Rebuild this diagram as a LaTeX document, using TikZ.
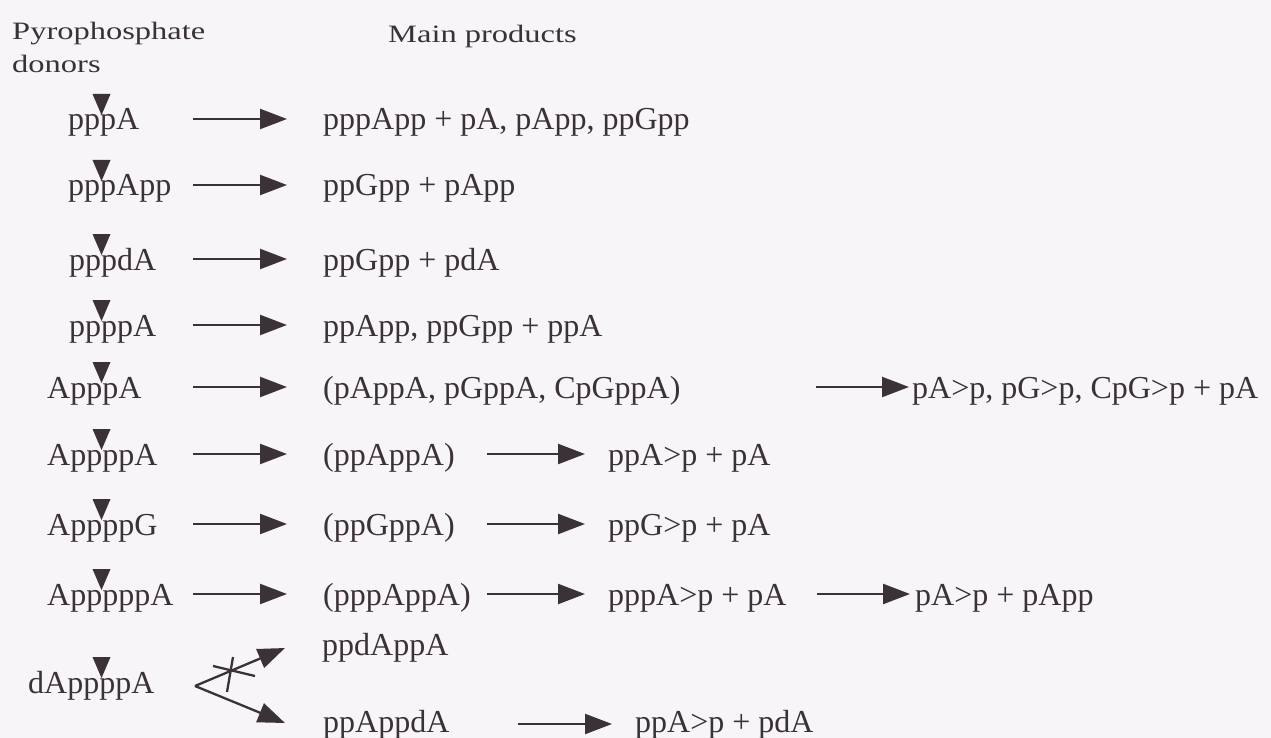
\documentclass[tikz,border=0pt]{standalone}
\usepackage{fontspec}
\setmainfont{Liberation Serif}
\newfontfamily\hdrfont{Liberation Serif}[FakeStretch=1.3]
\usetikzlibrary{arrows.meta}
\definecolor{ink}{HTML}{3B3139}
\definecolor{bg}{HTML}{F7F5F7}
\tikzset{
  fml/.style={anchor=base west, inner sep=0pt, text=ink, font=\fontsize{32}{38}\selectfont},
  hdr/.style={anchor=base west, inner sep=0pt, text=ink, font=\hdrfont\fontsize{25}{33}\selectfont},
  arr/.style={draw=ink, line width=2.3pt, -{Triangle[length=27pt,width=20pt]}},
  cutmark/.pic={\fill[ink] (-9,0) -- (9,0) -- (0,21) -- cycle;}
}
\begin{document}
\begin{tikzpicture}[x=1pt,y=-1pt]
\fill[bg] (0,0) rectangle (1271,738);
\useasboundingbox (0,0) rectangle (1271,738);
% headers
\node[hdr] (h1) at (12,40) {Pyrophosphate};
\node[hdr] (h2) at (12,73) {donors};
\node[hdr] (h3) at (388,43) {Main products};
% donors
\node[fml] (d1) at (68,130) {pppA};
\node[fml] (d2) at (68,196) {pppApp};
\node[fml] (d3) at (69,270) {pppdA};
\node[fml] (d4) at (69,336) {ppppA};
\node[fml] (d5) at (47,398) {ApppA};
\node[fml] (d6) at (47,465) {AppppA};
\node[fml] (d7) at (47,535) {AppppG};
\node[fml] (d8) at (47,605) {ApppppA};
\node[fml] (d9) at (28,693) {dAppppA};
% cleavage marks
\foreach \b in {130,196,270,336,398,465,535,605,693}
  \pic at (101.5,\b-36) {cutmark};
% products
\node[fml] (p1) at (323,130) {pppApp + pA, pApp, ppGpp};
\node[fml] (p2) at (323,196) {ppGpp + pApp};
\node[fml] (p3) at (323,270) {ppGpp + pdA};
\node[fml] (p4) at (323,336) {ppApp, ppGpp + ppA};
\node[fml] (p5) at (323,398) {(pAppA, pGppA, CpGppA)};
\node[fml] (p6) at (323,465) {(ppAppA)};
\node[fml] (p7) at (323,535) {(ppGppA)};
\node[fml] (p8) at (323,605) {(pppAppA)};
\node[fml] (p9) at (322,655) {ppdAppA};
\node[fml] (p10) at (323,732) {ppAppdA};
\node[fml] (q5) at (912,398) {pA>p, pG>p, CpG>p + pA};
\node[fml] (q6) at (608,465) {ppA>p + pA};
\node[fml] (q7) at (608,535) {ppG>p + pA};
\node[fml] (q8) at (608,605) {pppA>p + pA};
\node[fml] (r8) at (915,605) {pA>p + pApp};
\node[fml] (q10) at (635,732) {ppA>p + pdA};
% first-stage arrows
\foreach \i/\y in {1/119,2/185,3/259,4/325,5/387,6/454,7/524,8/594}{
  \coordinate (s\i) at (193,\y);
  \coordinate (e\i) at (287,\y);
  \draw[arr] (s\i) -- (e\i);
}
% second-stage arrows
\coordinate (f5s) at (816,387); \coordinate (f5e) at (909,387);
\draw[arr] (f5s) -- (f5e);
\coordinate (f6s) at (487,454); \coordinate (f6e) at (585,454);
\draw[arr] (f6s) -- (f6e);
\coordinate (f7s) at (487,524); \coordinate (f7e) at (585,524);
\draw[arr] (f7s) -- (f7e);
\coordinate (f8s) at (487,594); \coordinate (f8e) at (585,594);
\draw[arr] (f8s) -- (f8e);
\coordinate (g8s) at (817,594); \coordinate (g8e) at (910,594);
\draw[arr] (g8s) -- (g8e);
\coordinate (f10s) at (518,724); \coordinate (f10e) at (612,724);
\draw[arr] (f10s) -- (f10e);
% fork
\coordinate (fork) at (195,686);
\coordinate (up) at (285,648);
\coordinate (dn) at (285,723);
\draw[arr] (fork) -- (up);
\draw[arr] (fork) -- (dn);
\draw[ink, line width=2.3pt] (213,666) -- (255,676);
\draw[ink, line width=2.3pt] (233,657) -- (227,692);
\end{tikzpicture}
\end{document}
